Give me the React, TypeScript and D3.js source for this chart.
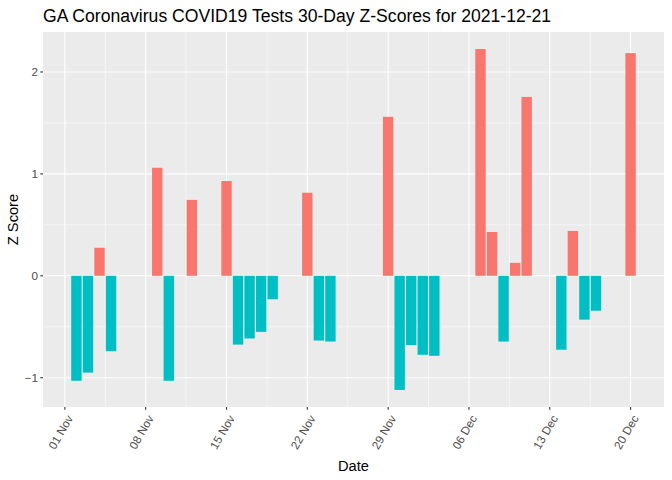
import * as d3 from "d3";
import { useEffect, useRef } from "react";

const title = "GA Coronavirus COVID19 Tests 30-Day Z-Scores for 2021-12-21";

const dates = [
  "2021-11-02", "2021-11-03", "2021-11-04", "2021-11-05",
  "2021-11-09", "2021-11-10", "2021-11-12",
  "2021-11-15", "2021-11-16", "2021-11-17", "2021-11-18", "2021-11-19",
  "2021-11-22", "2021-11-23", "2021-11-24",
  "2021-11-29", "2021-11-30", "2021-12-01", "2021-12-02", "2021-12-03",
  "2021-12-07", "2021-12-08", "2021-12-09", "2021-12-10", "2021-12-11",
  "2021-12-14", "2021-12-15", "2021-12-16", "2021-12-17",
  "2021-12-20",
];

const zScores = [
  -1.03, -0.95, 0.275, -0.74,
  1.06, -1.03, 0.745,
  0.93, -0.675, -0.615, -0.55, -0.23,
  0.815, -0.635, -0.645,
  1.56, -1.12, -0.68, -0.775, -0.785,
  2.225, 0.43, -0.645, 0.127, 1.755,
  -0.725, 0.44, -0.43, -0.343,
  2.185,
];

const xTickDates = ["2021-11-01", "2021-11-08", "2021-11-15", "2021-11-22", "2021-11-29", "2021-12-06", "2021-12-13", "2021-12-20"];
const yTicks = [-1, 0, 1, 2];

const colors = {
  POS: "#F8766D",
  NEG: "#00BFC4",
  PANEL: "#EBEBEB",
  TEXT: "#4D4D4D",
};

const W = 672;
const H = 480;
const margin = { top: 32, right: 8, bottom: 73, left: 43 };
const DAY = 86400000;
const font = "'Liberation Sans', Arial, sans-serif";

export default function App() {
  const ref = useRef<SVGSVGElement | null>(null);

  useEffect(() => {
    const svg = d3.select(ref.current);
    svg.selectAll("*").remove();

    const parse = d3.utcParse("%Y-%m-%d");
    const data = dates.map((d, i) => ({ date: parse(d) as Date, z: zScores[i] }));
    const barW = 0.9 * DAY;

    // ggplot style 5% expansion
    const xMin = d3.min(data, (d) => +d.date - barW / 2) as number;
    const xMax = d3.max(data, (d) => +d.date + barW / 2) as number;
    const xPad = (xMax - xMin) * 0.05;
    const x = d3
      .scaleUtc()
      .domain([new Date(xMin - xPad), new Date(xMax + xPad)])
      .range([margin.left, W - margin.right]);

    const yLo = Math.min(0, d3.min(zScores) as number);
    const yHi = Math.max(0, d3.max(zScores) as number);
    const yPad = (yHi - yLo) * 0.05;
    const y = d3
      .scaleLinear()
      .domain([yLo - yPad, yHi + yPad])
      .range([H - margin.bottom, margin.top]);

    svg
      .append("rect")
      .attr("x", margin.left)
      .attr("y", margin.top)
      .attr("width", W - margin.left - margin.right)
      .attr("height", H - margin.top - margin.bottom)
      .attr("fill", colors.PANEL);

    const xTicks = xTickDates.map((d) => parse(d) as Date);
    const xMinor = xTicks.slice(0, -1).map((d) => new Date(+d + 3.5 * DAY));
    xMinor.unshift(new Date(+xTicks[0] - 3.5 * DAY));
    xMinor.push(new Date(+xTicks[xTicks.length - 1] + 3.5 * DAY));
    const yMinor = [-1.5, -0.5, 0.5, 1.5];

    const grid = svg.append("g").attr("stroke", "white");
    grid
      .selectAll("line.xminor")
      .data(xMinor.filter((d) => x(d) > margin.left && x(d) < W - margin.right))
      .enter()
      .append("line")
      .attr("x1", (d) => x(d))
      .attr("x2", (d) => x(d))
      .attr("y1", margin.top)
      .attr("y2", H - margin.bottom)
      .attr("stroke-width", 0.55);
    grid
      .selectAll("line.yminor")
      .data(yMinor.filter((d) => y(d) < H - margin.bottom && y(d) > margin.top))
      .enter()
      .append("line")
      .attr("x1", margin.left)
      .attr("x2", W - margin.right)
      .attr("y1", (d) => y(d))
      .attr("y2", (d) => y(d))
      .attr("stroke-width", 0.55);
    grid
      .selectAll("line.xmajor")
      .data(xTicks)
      .enter()
      .append("line")
      .attr("x1", (d) => x(d))
      .attr("x2", (d) => x(d))
      .attr("y1", margin.top)
      .attr("y2", H - margin.bottom)
      .attr("stroke-width", 1.1);
    grid
      .selectAll("line.ymajor")
      .data(yTicks)
      .enter()
      .append("line")
      .attr("x1", margin.left)
      .attr("x2", W - margin.right)
      .attr("y1", (d) => y(d))
      .attr("y2", (d) => y(d))
      .attr("stroke-width", 1.1);

    svg
      .append("g")
      .selectAll("rect")
      .data(data)
      .enter()
      .append("rect")
      .attr("x", (d) => x(new Date(+d.date - barW / 2)))
      .attr("width", (d) => x(new Date(+d.date + barW / 2)) - x(new Date(+d.date - barW / 2)))
      .attr("y", (d) => Math.min(y(d.z), y(0)))
      .attr("height", (d) => Math.abs(y(d.z) - y(0)))
      .attr("fill", (d) => (d.z >= 0 ? colors.POS : colors.NEG));

    // y axis
    const yAxis = svg.append("g");
    yAxis
      .selectAll("line")
      .data(yTicks)
      .enter()
      .append("line")
      .attr("x1", margin.left - 2.7)
      .attr("x2", margin.left)
      .attr("y1", (d) => y(d))
      .attr("y2", (d) => y(d))
      .attr("stroke", "#333333")
      .attr("stroke-width", 1.1);
    yAxis
      .selectAll("text")
      .data(yTicks)
      .enter()
      .append("text")
      .attr("x", margin.left - 5)
      .attr("y", (d) => y(d))
      .attr("dy", "0.35em")
      .attr("text-anchor", "end")
      .attr("font-family", font)
      .attr("font-size", 11.7)
      .attr("fill", colors.TEXT)
      .text((d) => d3.format("d")(d));

    // x axis
    const xAxis = svg.append("g");
    const yb = H - margin.bottom;
    xAxis
      .selectAll("line")
      .data(xTicks)
      .enter()
      .append("line")
      .attr("x1", (d) => x(d))
      .attr("x2", (d) => x(d))
      .attr("y1", yb)
      .attr("y2", yb + 2.7)
      .attr("stroke", "#333333")
      .attr("stroke-width", 1.1);
    const fmt = d3.utcFormat("%d %b");
    xAxis
      .selectAll("text")
      .data(xTicks)
      .enter()
      .append("text")
      .attr("transform", (d) => `translate(${x(d) + 5},${yb + 9}) rotate(-60)`)
      .attr("text-anchor", "end")
      .attr("dy", "0.35em")
      .attr("font-family", font)
      .attr("font-size", 11.7)
      .attr("fill", colors.TEXT)
      .text((d) => fmt(d));

    svg
      .append("text")
      .attr("x", (margin.left + W - margin.right) / 2)
      .attr("y", H - 9)
      .attr("text-anchor", "middle")
      .attr("font-family", font)
      .attr("font-size", 14.67)
      .attr("fill", "black")
      .text("Date");

    svg
      .append("text")
      .attr("transform", `translate(18,${(margin.top + H - margin.bottom) / 2}) rotate(-90)`)
      .attr("text-anchor", "middle")
      .attr("font-family", font)
      .attr("font-size", 14.67)
      .attr("fill", "black")
      .text("Z Score");

    svg
      .append("text")
      .attr("x", margin.left)
      .attr("y", 22)
      .attr("font-family", font)
      .attr("font-size", 17.6)
      .attr("fill", "black")
      .text(title);
  }, []);

  return (
    <svg
      ref={ref}
      width={W}
      height={H}
      style={{ position: "absolute", left: 0, top: 0, background: "white" }}
    />
  );
}
